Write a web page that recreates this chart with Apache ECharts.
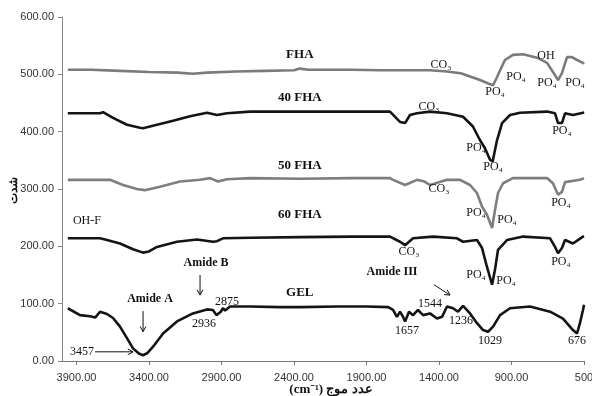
<!DOCTYPE html>
<html>
<head>
<meta charset="utf-8">
<script src="https://cdn.jsdelivr.net/npm/echarts@6/dist/echarts.min.js"></script>
<style>html,body{margin:0;padding:0;background:#fff;}#c{width:592px;height:396px;}</style>
</head>
<body>
<div id="c"></div>
<script>
// ---- data: [wavenumber (cm-1), intensity] ----
const fhaData = [[3960,508],[3800,508],[3600,506],[3400,504],[3200,503],[3100,501],[3000,503],[2800,505],[2600,506],[2400,507],[2360,510],[2300,508],[2000,508],[1800,507],[1600,507],[1462,507],[1345,505],[1250,502],[1117,490],[1060,484],[1027,481],[1000,495],[979,507],[945,525],[890,534],[820,535],[724,529],[655,520],[614,504],[579,490],[552,502],[517,530],[483,530],[448,525],[407,520],[400,518]];
const fha40Data = [[3960,432],[3738,432],[3717,434],[3648,424],[3552,412],[3462,407],[3441,406],[3345,412],[3234,419],[3117,427],[3000,433],[2931,429],[2862,432],[2703,435],[2359,435],[2000,435],[1738,435],[1669,417],[1634,415],[1600,429],[1552,432],[1462,435],[1345,432],[1234,426],[1166,409],[1117,385],[1083,371],[1048,351],[1030,348],[1000,385],[965,415],[910,429],[841,433],[655,435],[600,432],[579,415],[552,415],[531,432],[476,429],[407,433],[400,434]];
const fha50Data = [[3960,316],[3669,316],[3579,307],[3483,300],[3428,298],[3324,304],[3186,313],[3048,316],[2979,319],[2924,313],[2862,317],[2703,319],[2359,318],[2000,319],[1738,319],[1717,316],[1634,307],[1552,316],[1500,313],[1462,307],[1345,316],[1255,316],[1186,307],[1138,293],[1103,269],[1069,255],[1034,232],[1014,263],[993,293],[958,310],[890,319],[655,319],[614,310],[579,290],[552,295],[531,312],[428,316],[400,319]];
const fha60Data = [[3960,214],[3738,214],[3690,211],[3600,205],[3510,195],[3441,189],[3400,191],[3345,199],[3207,208],[3069,212],[2959,208],[2931,209],[2890,214],[2700,215],[2359,216],[2000,217],[1738,217],[1669,208],[1634,202],[1579,214],[1441,217],[1276,214],[1234,208],[1138,211],[1103,197],[1069,164],[1034,133],[1014,159],[993,194],[931,211],[820,217],[634,214],[600,199],[579,188],[552,197],[531,211],[476,205],[407,217],[400,218]];
const gelData = [[3960,92],[3876,80],[3807,78],[3770,76],[3759,73],[3738,86],[3690,82],[3648,75],[3600,60],[3552,40],[3510,22],[3470,13],[3441,10],[3410,14],[3372,25],[3303,48],[3207,69],[3097,83],[3000,90],[2959,89],[2935,80],[2924,77],[2905,86],[2890,92],[2875,88],[2862,87],[2841,95],[2700,95],[2500,94],[2359,94],[2100,95],[1900,95],[1750,94],[1717,89],[1690,77],[1669,86],[1650,78],[1634,69],[1607,86],[1579,80],[1545,89],[1510,80],[1462,83],[1414,74],[1379,77],[1345,95],[1303,92],[1269,86],[1234,96],[1186,83],[1138,66],[1096,54],[1062,51],[1027,60],[979,80],[910,92],[772,95],[634,86],[545,74],[476,54],[448,48],[428,66],[407,89],[400,98]];

const xTickValues = [3900,3400,2900,2400,1900,1400,900,400];
const xTickLabels = ['3900.00','3400.00','2900.00','2400.00','1900.00','1400.00','900.00','500'];
const yTickLabels = ['0.00','100.00','200.00','300.00','400.00','500.00','600.00'];
const xTitle = '(cm⁻¹) عدد موج';
const yTitle = 'شدت';

// annotations: [wavenumber, intensity, text, bold]
const seriesLabels = [[2360,535,'FHA'],[2360,460,'40 FHA'],[2360,340,'50 FHA'],[2360,255,'60 FHA'],[2360,119,'GEL']];
const noteLabels = [
  [3828,244,'OH-F'],[3007,171,'Amide B',1],[3393,108,'Amide A',1],[2862,103,'2875'],[3021,64,'2936'],[3862,16,'3457'],
  [1724,155,'Amide III',1],[1462,99,'1544'],[1621,52,'1657'],[1248,70,'1236'],[1048,35,'1029'],[448,35,'676'],
  [1386,516,'CO₃'],[1469,443,'CO₃'],[1400,300,'CO₃'],[1607,190,'CO₃'],
  [1014,469,'PO₄'],[869,495,'PO₄'],[662,532,'OH'],[655,485,'PO₄'],[462,485,'PO₄'],
  [1145,371,'PO₄'],[1027,338,'PO₄'],[552,401,'PO₄'],
  [1145,258,'PO₄'],[931,246,'PO₄'],[559,276,'PO₄'],
  [1145,150,'PO₄'],[938,140,'PO₄'],[559,173,'PO₄']
];
// arrows: [x1,y1,x2,y2] in data units
const arrows = [[3048,150,3048,115],[3441,87,3441,51],[3772,16,3510,16],[1434,133,1324,115]];

const chart = echarts.init(document.getElementById('c'));
const mk = (name, data, color) => ({
  name, type:'line', data, symbol:'none', smooth:false,
  lineStyle:{color, width:2.6}, z:2
});
chart.setOption({
  animation:false,
  grid:{left:62, right:8, top:17, bottom:35, containLabel:false, outerBoundsMode:'none'},
  xAxis:{
    type:'value', inverse:true, min:400, max:4000,
    axisLine:{lineStyle:{color:'#777', width:1}},
    axisTick:{show:true, length:4, inside:false, customValues:xTickValues, lineStyle:{color:'#777'}},
    axisLabel:{customValues:xTickValues, margin:11, fontFamily:'Liberation Sans Narrow, Arial Narrow, Liberation Sans', fontSize:11, color:'#333',
      formatter:(v)=>{const i=xTickValues.indexOf(v); return i>=0?xTickLabels[i]:'';}},
    splitLine:{show:false}
  },
  yAxis:{
    type:'value', min:0, max:600, interval:100,
    axisLine:{show:true, lineStyle:{color:'#888', width:1}},
    axisTick:{show:true, length:4, lineStyle:{color:'#888'}},
    axisLabel:{margin:8, fontFamily:'Liberation Sans Narrow, Arial Narrow, Liberation Sans', fontSize:11, color:'#333',
      formatter:(v)=>yTickLabels[Math.round(v/100)]},
    splitLine:{show:false}
  },
  series:[
    mk('FHA', fhaData, '#7b7b7b'),
    mk('40 FHA', fha40Data, '#141414'),
    mk('50 FHA', fha50Data, '#7e7e7e'),
    mk('60 FHA', fha60Data, '#141414'),
    mk('GEL', gelData, '#141414')
  ]
});

const P = (x,y)=>chart.convertToPixel({gridIndex:0},[x,y]);
const g = [];
// axis titles
g.push({type:'text', x:331, y:390, z:10, style:{text:xTitle, fill:'#111', font:'bold 13px "Liberation Serif", "Noto Sans"', align:'center', verticalAlign:'middle'}});
g.push({type:'text', x:14, y:190, rotation:Math.PI/2, z:10, style:{text:yTitle, fill:'#111', font:'bold 12px "Noto Sans"', align:'center', verticalAlign:'middle'}});
seriesLabels.forEach(([x,y,t])=>{
  const p=P(x,y);
  g.push({type:'text', x:p[0], y:p[1], z:10, style:{text:t, fill:'#111', font:'bold 13px "Liberation Serif"', align:'center', verticalAlign:'middle'}});
});
noteLabels.forEach(([x,y,t,b])=>{
  const p=P(x,y);
  g.push({type:'text', x:p[0], y:p[1], z:10, style:{text:t, fill:'#111', font:(b?'bold ':'')+'12px "Liberation Serif", "DejaVu Serif"', align:'center', verticalAlign:'middle'}});
});
arrows.forEach(([x1,y1,x2,y2])=>{
  const a=P(x1,y1), b=P(x2,y2);
  const ang=Math.atan2(b[1]-a[1], b[0]-a[0]);
  const L=6, w=0.5;
  const h1=[b[0]-L*Math.cos(ang-w), b[1]-L*Math.sin(ang-w)];
  const h2=[b[0]-L*Math.cos(ang+w), b[1]-L*Math.sin(ang+w)];
  g.push({type:'line', z:10, shape:{x1:a[0],y1:a[1],x2:b[0],y2:b[1]}, style:{stroke:'#111', lineWidth:1}});
  g.push({type:'polyline', z:10, shape:{points:[h1,b,h2]}, style:{stroke:'#111', lineWidth:1, fill:null}});
});
chart.setOption({graphic:g});
</script>
</body>
</html>
